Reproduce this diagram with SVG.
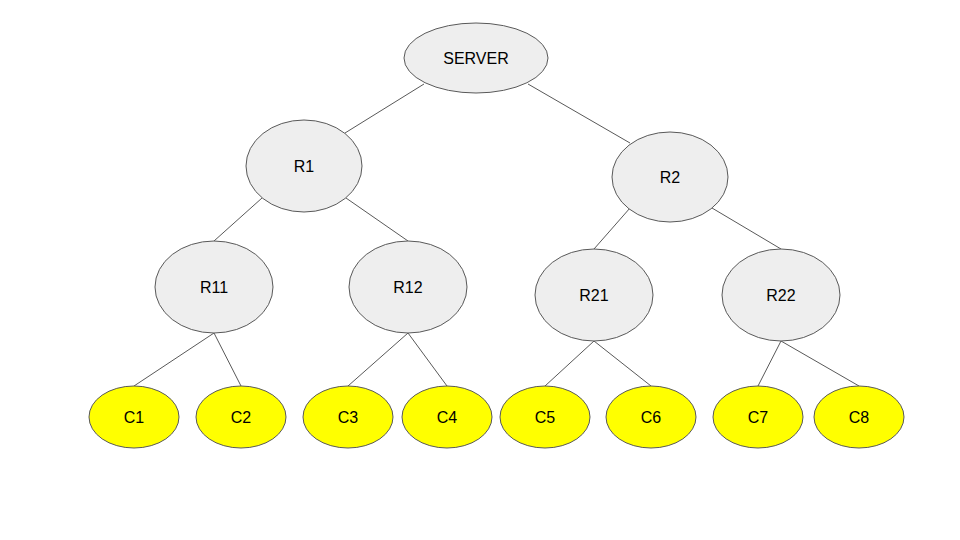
<svg xmlns="http://www.w3.org/2000/svg" width="960" height="540" viewBox="0 0 960 540">
<style>
.n{fill:#eeeeee;stroke:#595959;stroke-width:1}
.c{fill:#ffff00;stroke:#595959;stroke-width:1}
.e{stroke:#595959;stroke-width:1;fill:none}
text{font-family:"Liberation Sans",Arial,sans-serif;font-size:16px;fill:#000;text-anchor:middle;dominant-baseline:central}
</style>
<rect width="960" height="540" fill="#fff"/>
<g id="connectors">
<line class="e" x1="424" y1="84" x2="345" y2="133"/>
<line class="e" x1="528" y1="84" x2="630" y2="143"/>
<line class="e" x1="262" y1="198" x2="214" y2="241"/>
<line class="e" x1="346" y1="198" x2="408" y2="241"/>
<line class="e" x1="630" y1="208" x2="594" y2="249"/>
<line class="e" x1="712" y1="208" x2="781" y2="249"/>
<line class="e" x1="214" y1="333" x2="134" y2="386"/>
<line class="e" x1="214" y1="333" x2="241" y2="386"/>
<line class="e" x1="408" y1="333" x2="348" y2="386"/>
<line class="e" x1="408" y1="333" x2="447" y2="386"/>
<line class="e" x1="594" y1="341" x2="545" y2="386"/>
<line class="e" x1="594" y1="341" x2="651" y2="386"/>
<line class="e" x1="781" y1="341" x2="758" y2="386"/>
<line class="e" x1="781" y1="341" x2="859" y2="386"/>
</g>
<g id="server"><ellipse class="n" cx="476" cy="58" rx="72" ry="35"/><text x="476" y="58">SERVER</text></g>
<g id="r1"><ellipse class="n" cx="304" cy="166" rx="58" ry="46"/><text x="304" y="166">R1</text></g>
<g id="r2"><ellipse class="n" cx="670" cy="177" rx="58" ry="45"/><text x="670" y="177">R2</text></g>
<g id="r11"><ellipse class="n" cx="214" cy="287" rx="59" ry="46"/><text x="214" y="287">R11</text></g>
<g id="r12"><ellipse class="n" cx="408" cy="287" rx="59" ry="46"/><text x="408" y="287">R12</text></g>
<g id="r21"><ellipse class="n" cx="594" cy="295" rx="59" ry="46"/><text x="594" y="295">R21</text></g>
<g id="r22"><ellipse class="n" cx="781" cy="295" rx="59" ry="46"/><text x="781" y="295">R22</text></g>
<g id="c1"><ellipse class="c" cx="134" cy="417" rx="45" ry="31"/><text x="134" y="417">C1</text></g>
<g id="c2"><ellipse class="c" cx="241" cy="417" rx="45" ry="31"/><text x="241" y="417">C2</text></g>
<g id="c3"><ellipse class="c" cx="348" cy="417" rx="45" ry="31"/><text x="348" y="417">C3</text></g>
<g id="c4"><ellipse class="c" cx="447" cy="417" rx="45" ry="31"/><text x="447" y="417">C4</text></g>
<g id="c5"><ellipse class="c" cx="545" cy="417" rx="45" ry="31"/><text x="545" y="417">C5</text></g>
<g id="c6"><ellipse class="c" cx="651" cy="417" rx="45" ry="31"/><text x="651" y="417">C6</text></g>
<g id="c7"><ellipse class="c" cx="758" cy="417" rx="45" ry="31"/><text x="758" y="417">C7</text></g>
<g id="c8"><ellipse class="c" cx="859" cy="417" rx="45" ry="31"/><text x="859" y="417">C8</text></g>
</svg>
